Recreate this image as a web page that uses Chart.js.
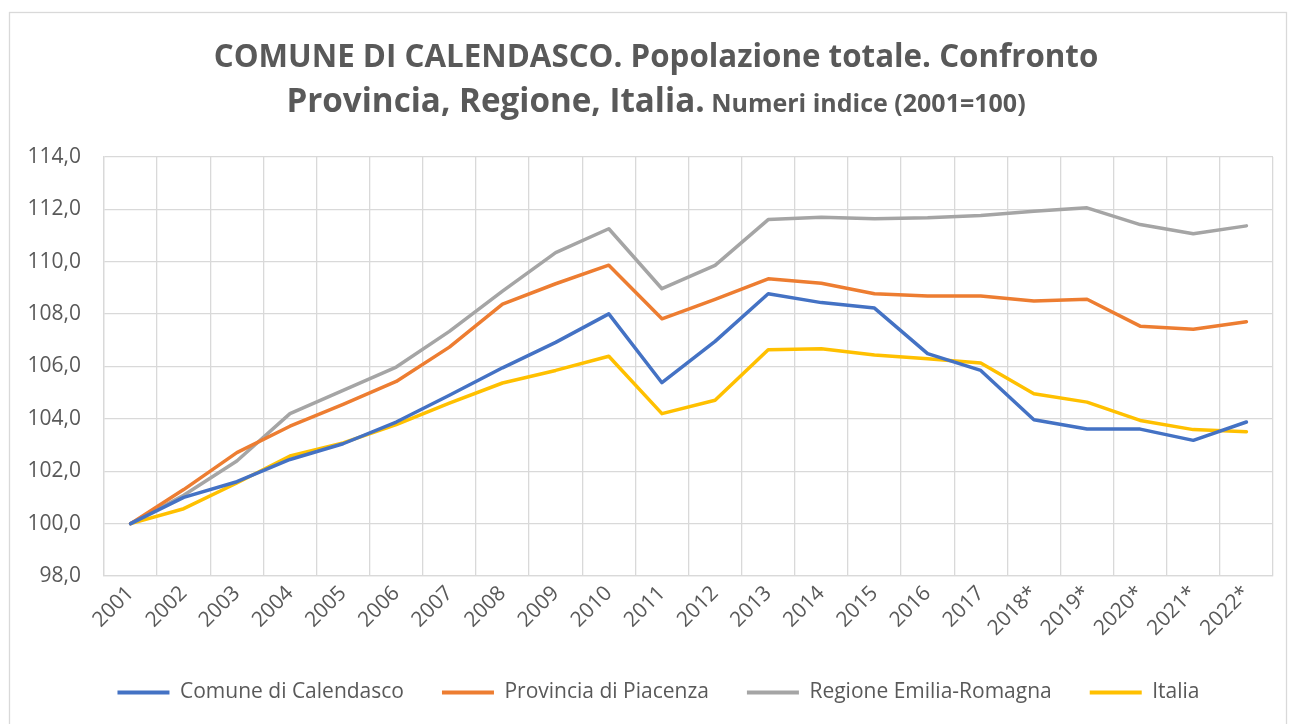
<!DOCTYPE html>
<html>
<head>
<meta charset="utf-8">
<script src="https://cdn.jsdelivr.net/npm/chart.js@4"></script>
<style>
	html, body { margin: 0; padding: 0; background: #fff; }
	#wrap { width: 1290px; height: 724px; position: relative; }
</style>
</head>
<body>
<div id="wrap"><canvas id="myChart" width="1290" height="724"></canvas></div>
<script>
// anni (le stime dal 2018 con asterisco)
let anni = ["2001","2002","2003","2004","2005","2006","2007","2008","2009","2010","2011",
	"2012","2013","2014","2015","2016","2017","2018*","2019*","2020*","2021*","2022*"];

// numeri indice 2001=100
let comune = [100.0, 101.0, 101.6, 102.45, 103.05, 103.88, 104.9, 105.95, 106.92, 108.01, 105.38,
	106.96, 108.78, 108.44, 108.23, 106.49, 105.85, 103.97, 103.61, 103.61, 103.18, 103.88];
let provincia = [100.0, 101.3, 102.71, 103.72, 104.55, 105.43, 106.74, 108.38, 109.16, 109.87, 107.82,
	108.56, 109.35, 109.18, 108.78, 108.69, 108.69, 108.5, 108.57, 107.54, 107.42, 107.71];
let regione = [100.0, 101.08, 102.39, 104.2, 105.09, 105.98, 107.34, 108.88, 110.35, 111.26, 108.97,
	109.86, 111.61, 111.7, 111.64, 111.68, 111.77, 111.93, 112.06, 111.42, 111.07, 111.37];
let italia = [100.0, 100.57, 101.55, 102.58, 103.08, 103.78, 104.6, 105.37, 105.85, 106.39, 104.2,
	104.71, 106.64, 106.68, 106.44, 106.3, 106.13, 104.96, 104.64, 103.94, 103.59, 103.51];

let nomiSerie = ["Comune di Calendasco", "Provincia di Piacenza", "Regione Emilia-Romagna", "Italia"];
let colori = ["#4472C4", "#ED7D31", "#A5A5A5", "#FFC000"];

let titolo1 = "COMUNE DI CALENDASCO. Popolazione totale. Confronto";
let titolo2a = "Provincia, Regione, Italia.";
let titolo2b = " Numeri indice (2001=100)";

let fontName = "'Open Sans', 'Noto Sans', sans-serif";
let grigioTesto = "#595959";
let grigioGriglia = "#d9d9d9";

// titolo e cornice disegnati a mano (due dimensioni di carattere sulla stessa riga)
let titlePlugin = {
	id: "titoloExcel",
	afterLayout: function(chart){
		// la legenda del riferimento e' centrata un po' piu' a destra
		if(chart.legend){
			chart.legend.left += 44;
		}
	},
	beforeDraw: function(chart){
		let ctx = chart.ctx;
		ctx.save();
		ctx.strokeStyle = grigioGriglia;
		ctx.lineWidth = 1.3;
		ctx.strokeRect(9.5, 12.5, 1277, 740);
		ctx.restore();
	},
	afterDraw: function(chart){
		let ctx = chart.ctx;
		ctx.save();
		ctx.fillStyle = grigioTesto;
		ctx.textBaseline = "alphabetic";
		// riga 1: adatta la dimensione alla larghezza del riferimento
		ctx.font = "bold 30px " + fontName;
		let w = ctx.measureText(titolo1).width;
		let size1 = 30 * 885 / w;
		ctx.font = "bold " + size1.toFixed(1) + "px " + fontName;
		ctx.textAlign = "center";
		ctx.fillText(titolo1, 656, 67);
		// riga 2
		let sizeA = size1 * 1.06;
		let sizeB = size1 * 0.8;
		ctx.font = "bold " + sizeA.toFixed(1) + "px " + fontName;
		let wa = ctx.measureText(titolo2a).width;
		ctx.font = "bold " + sizeB.toFixed(1) + "px " + fontName;
		let wb = ctx.measureText(titolo2b).width;
		let x0 = 656 - (wa + wb) / 2;
		ctx.textAlign = "left";
		ctx.font = "bold " + sizeA.toFixed(1) + "px " + fontName;
		ctx.fillText(titolo2a, x0, 112);
		ctx.font = "bold " + sizeB.toFixed(1) + "px " + fontName;
		ctx.fillText(titolo2b, x0 + wa, 112);
		ctx.restore();
	}
};

let serie = [comune, provincia, regione, italia];
let datasets = [];
for(let i in serie){
	datasets.push({
		label: nomiSerie[i],
		data: serie[i],
		borderColor: colori[i],
		backgroundColor: colori[i],
		borderWidth: 3.5,
		borderCapStyle: "round",
		borderJoinStyle: "round",
		pointRadius: 0,
		pointHoverRadius: 0,
		tension: 0,
		fill: false
	});
}

let ctx = document.getElementById("myChart");
let chart = new Chart(ctx, {
	type: "line",
	data: {
		labels: anni,
		datasets: datasets
	},
	plugins: [titlePlugin],
	options: {
		animation: false,
		responsive: false,
		layout: {
			padding: { top: 157, left: 0, right: 17, bottom: 11 }
		},
		plugins: {
			title: { display: false },
			tooltip: { enabled: false },
			legend: {
				position: "bottom",
				labels: {
					boxWidth: 52,
					boxHeight: 4,
					padding: 38,
					color: grigioTesto,
					font: { family: fontName, size: 21 },
					generateLabels: function(chart){
						let items = Chart.defaults.plugins.legend.labels.generateLabels(chart);
						for(let it of items){
							it.lineWidth = 0;
						}
						return items;
					}
				}
			}
		},
		scales: {
			x: {
				offset: true,
				grid: {
					offset: true,
					color: grigioGriglia,
					lineWidth: 1.3,
					drawTicks: false
				},
				border: { color: grigioGriglia, width: 1.3 },
				ticks: {
					autoSkip: false,
					maxRotation: 45,
					minRotation: 45,
					padding: 5,
					color: grigioTesto,
					font: { family: fontName, size: 21 }
				},
				afterFit: function(scale){
					scale.height = 68;
				}
			},
			y: {
				min: 98,
				max: 114,
				grid: {
					color: grigioGriglia,
					lineWidth: 1.3,
					drawTicks: false
				},
				border: { color: grigioGriglia, width: 1.3 },
				ticks: {
					stepSize: 2,
					padding: 23,
					color: grigioTesto,
					font: { family: fontName, size: 21 },
					callback: function(v){
						return v.toFixed(1).replace(".", ",");
					}
				},
				afterFit: function(scale){
					scale.width = 104;
				}
			}
		}
	}
});
</script>
</body>
</html>
